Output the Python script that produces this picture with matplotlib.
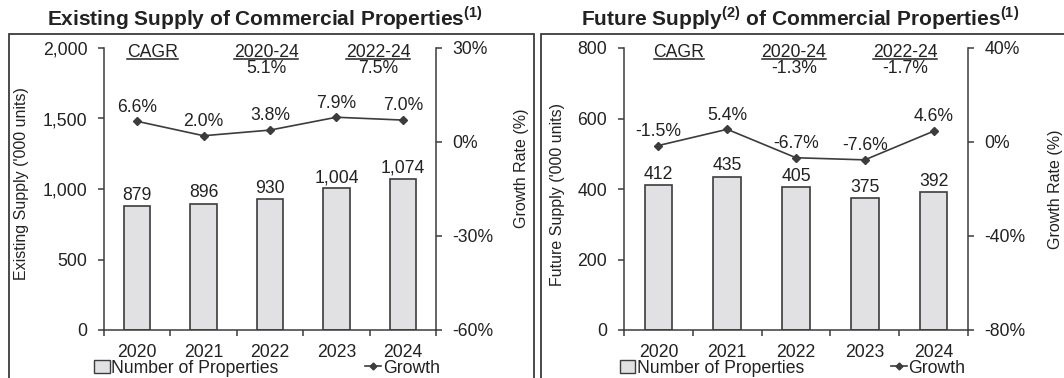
import matplotlib
matplotlib.use("Agg")
import matplotlib.pyplot as plt
from matplotlib.patches import Rectangle, Patch
from matplotlib.lines import Line2D
from matplotlib.ticker import FuncFormatter, FixedLocator

plt.rcParams["font.family"] = ["Liberation Sans", "DejaVu Sans"]
plt.rcParams["mathtext.fontset"] = "custom"
plt.rcParams["mathtext.rm"] = "Liberation Sans"
plt.rcParams["mathtext.bf"] = "Liberation Sans:bold"

# data
years = ["2020", "2021", "2022", "2023", "2024"]

existing_units  = [879, 896, 930, 1004, 1074]
existing_growth = [6.6, 2.0, 3.8, 7.9, 7.0]
existing_cagr   = ["5.1%", "7.5%"]

future_units  = [412, 435, 405, 375, 392]
future_growth = [-1.5, 5.4, -6.7, -7.6, 4.6]
future_cagr   = ["-1.3%", "-1.7%"]

cagr_periods = ["2020-24", "2022-24"]

TEXT  = "#222222"
DARK  = "#3c3c3c"
BAR   = "#e1e1e3"
FS    = 12.7
W, H  = 1064, 378

fig = plt.figure(figsize=(W / 100, H / 100), dpi=100)


def px_rect(x0, y0, x1, y1):
    """pixel box (top-left origin) -> figure fraction [l, b, w, h]"""
    return [x0 / W, 1 - y1 / H, (x1 - x0) / W, (y1 - y0) / H]


underlined = []


def panel(box, frame, title, units, growth, cagr, ylim, glim, gstep,
          ystep, cagr_x, ylab_pos, glab_pos, ylabel, title_x):
    ax = fig.add_axes(px_rect(*box))
    x = list(range(len(years)))

    ax.bar(x, units, width=0.4, color=BAR, edgecolor=DARK, linewidth=1.2,
           zorder=2)
    for xi, v in zip(x, units):
        ax.annotate(f"{v:,}", (xi, v), xytext=(0, 4.5),
                    textcoords="offset points", ha="center", va="baseline",
                    fontsize=FS, color=TEXT)

    ax.set_xlim(-0.5, len(years) - 0.5)
    ax.set_ylim(*ylim)
    ax.set_yticks(range(ylim[0], ylim[1] + 1, ystep))
    ax.yaxis.set_major_formatter(FuncFormatter(lambda v, p: f"{v:,.0f}"))
    ax.set_xticks(x)
    ax.set_xticklabels(years)
    ax.xaxis.set_minor_locator(FixedLocator([i - 0.5 for i in range(len(years) + 1)]))
    ax.tick_params(axis="x", which="major", length=0, pad=10,
                   labelsize=FS, labelcolor=TEXT)
    ax.tick_params(axis="x", which="minor", length=4, width=1.1,
                   color=DARK, direction="out")
    ax.tick_params(axis="y", length=4, width=1.1, color=DARK, pad=8,
                   labelsize=FS, labelcolor=TEXT)
    for s in ["top", "right"]:
        ax.spines[s].set_visible(False)
    for s in ["left", "bottom"]:
        ax.spines[s].set_color(DARK)
        ax.spines[s].set_linewidth(1.1)
    ax.text(*ylab_pos, ylabel, transform=ax.transAxes, rotation=90,
            ha="center", va="center", fontsize=11.5, color=TEXT)

    gx = ax.twinx()
    gx.plot(x, [g / 100 for g in growth], color=DARK, linewidth=1.2,
            marker="D", markersize=4, zorder=3)
    for xi, g in zip(x, growth):
        gx.annotate(f"{g:.1f}%", (xi, g / 100), xytext=(0, 7),
                    textcoords="offset points", ha="center", va="baseline",
                    fontsize=FS, color=TEXT)
    gx.set_ylim(*glim)
    ticks = []
    t = glim[0]
    while t <= glim[1] + 1e-9:
        ticks.append(t)
        t += gstep
    gx.set_yticks(ticks)
    gx.yaxis.set_major_formatter(FuncFormatter(lambda v, p: f"{v * 100:.0f}%"))
    gx.tick_params(axis="y", length=4, width=1.1, color=DARK, pad=8,
                   labelsize=FS, labelcolor=TEXT)
    for s in ["top", "left", "bottom"]:
        gx.spines[s].set_visible(False)
    gx.spines["right"].set_color(DARK)
    gx.spines["right"].set_linewidth(1.1)
    gx.text(*glab_pos, "Growth Rate (%)", transform=gx.transAxes,
            rotation=90, ha="center", va="center", fontsize=11.5, color=TEXT)

    # CAGR block
    heads = ["CAGR"] + cagr_periods
    for cx, head in zip(cagr_x, heads):
        t = ax.text(cx, 0.968, head, transform=ax.transAxes, ha="center",
                    va="baseline", fontsize=FS, color=TEXT)
        underlined.append(t)
    for cx, val in zip(cagr_x[1:], cagr):
        ax.text(cx, 0.911, val, transform=ax.transAxes, ha="center",
                va="baseline", fontsize=FS, color=TEXT)

    handles = [Patch(facecolor=BAR, edgecolor=DARK, linewidth=1.0),
               Line2D([], [], color=DARK, linewidth=1.2, marker="D",
                      markersize=3.5)]
    ax.legend(handles, ["Number of Properties", "Growth"], ncol=2,
              loc="center", bbox_to_anchor=(0.49, -0.135), frameon=False,
              fontsize=FS, handlelength=0.9, handleheight=0.7,
              handletextpad=0.1, columnspacing=4.9, borderpad=0,
              labelcolor=TEXT)

    # frame and title
    fx0, fy0, fx1, fy1 = frame
    fig.patches.append(Rectangle((fx0 / W, 1 - fy1 / H), (fx1 - fx0) / W,
                                 (fy1 - fy0) / H, transform=fig.transFigure,
                                 fill=False, edgecolor=DARK, linewidth=1.3))
    fig.text(title_x / W, 1 - 25 / H, title, ha="center", va="baseline",
             fontsize=15, fontweight="bold", color=TEXT)
    return ax


panel((104, 48, 436, 330), (9, 34, 534, 390),
      r"Existing Supply of Commercial Properties$^{\mathbf{(1)}}$",
      existing_units, existing_growth, existing_cagr,
      (0, 2000), (-0.6, 0.3), 0.3, 500,
      [0.145, 0.488, 0.825], (-0.247, 0.52), (1.259, 0.574),
      "Existing Supply ('000 units)", 265)

panel((624, 48, 968, 330), (541, 34, 1070, 390),
      r"Future Supply$^{\mathbf{(2)}}$ of Commercial Properties$^{\mathbf{(1)}}$",
      future_units, future_growth, future_cagr,
      (0, 800), (-0.8, 0.4), 0.4, 200,
      [0.16, 0.494, 0.817], (-0.192, 0.48), (1.253, 0.5),
      "Future Supply ('000 units)", 800)

# underline the CAGR headers
fig.canvas.draw()
r = fig.canvas.get_renderer()
for t in underlined:
    bb = t.get_window_extent(r)
    y = (bb.y0 + 2.5) / H
    fig.add_artist(Line2D([bb.x0 / W, bb.x1 / W], [y, y],
                          transform=fig.transFigure, color=TEXT,
                          linewidth=1.1))

fig.savefig("out.png", dpi=100)
